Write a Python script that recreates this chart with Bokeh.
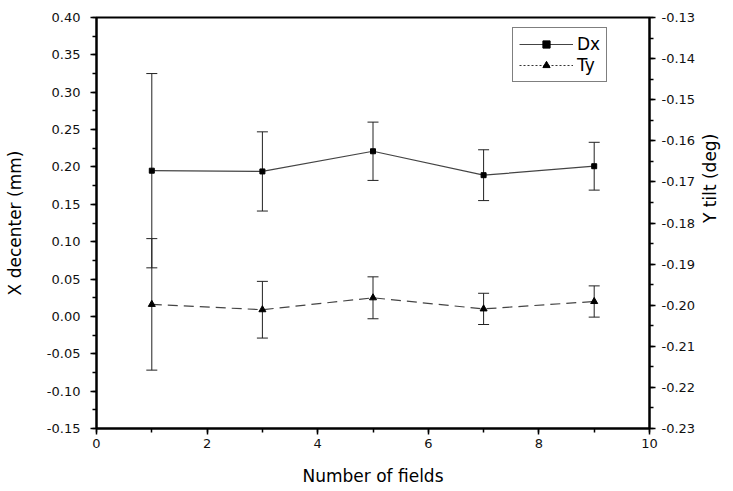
import math
from bokeh.plotting import figure
from bokeh.models import (ColumnDataSource, Range1d, LinearAxis, SingleIntervalTicker,
                          PrintfTickFormatter, Whisker, TeeHead, Legend, LegendItem)
from bokeh.embed import file_html
from bokeh.resources import INLINE

fields = [1, 3, 5, 7, 9]
dx = [0.195, 0.194, 0.221, 0.189, 0.201]
dx_err = [0.130, 0.053, 0.039, 0.034, 0.032]
ty = [-0.1998, -0.2011, -0.1982, -0.2009, -0.1991]
ty_err = [0.0160, 0.0069, 0.0051, 0.0038, 0.0038]

FONT = "DejaVu Sans"

src_dx = ColumnDataSource(dict(x=fields, y=dx,
                               lo=[v - e for v, e in zip(dx, dx_err)],
                               hi=[v + e for v, e in zip(dx, dx_err)]))
src_ty = ColumnDataSource(dict(x=fields, y=ty,
                               lo=[v - e for v, e in zip(ty, ty_err)],
                               hi=[v + e for v, e in zip(ty, ty_err)]))

p = figure(width=733, height=490, output_backend="svg", toolbar_location=None,
           x_range=Range1d(0, 10), y_range=Range1d(-0.15001, 0.40001),
           min_border_left=96, min_border_right=70, min_border_top=17, min_border_bottom=62)
p.extra_y_ranges = {"tilt": Range1d(-0.230002, -0.129998)}
p.xgrid.visible = False
p.ygrid.visible = False
p.outline_line_color = "black"
p.outline_line_width = 2
p.background_fill_color = "white"
p.border_fill_color = "white"

def style_axis(ax):
    ax.axis_line_width = 2
    ax.axis_line_color = "black"
    ax.major_tick_in = 0
    ax.major_tick_out = 6
    ax.minor_tick_in = 0
    ax.minor_tick_out = 4
    ax.major_tick_line_width = 1.5
    ax.minor_tick_line_width = 1.5
    ax.major_label_text_font = FONT
    ax.major_label_text_font_size = "13px"
    ax.major_label_text_color = "#111111"
    ax.major_label_standoff = 6
    ax.axis_label_text_font = FONT
    ax.axis_label_text_font_size = "17px"
    ax.axis_label_text_font_style = "normal"
    ax.axis_label_text_color = "black"

p.xaxis.ticker = SingleIntervalTicker(interval=2, num_minor_ticks=2)
p.xaxis.axis_label = "Number of fields"
p.yaxis.ticker = SingleIntervalTicker(interval=0.05, num_minor_ticks=2)
p.yaxis.formatter = PrintfTickFormatter(format="%.2f")
p.yaxis.axis_label = "X decenter (mm)"
style_axis(p.xaxis[0])
style_axis(p.yaxis[0])
p.xaxis[0].major_label_standoff = 4
p.xaxis[0].axis_label_standoff = 15
p.yaxis[0].major_label_standoff = 10
p.yaxis[0].axis_label_standoff = 19

rax = LinearAxis(y_range_name="tilt", axis_label="Y tilt (deg)",
                 ticker=SingleIntervalTicker(interval=0.01, num_minor_ticks=2),
                 formatter=PrintfTickFormatter(format="%.2f"))
style_axis(rax)
rax.axis_label_standoff = 12
rax.axis_label_orientation = math.pi / 2
p.add_layout(rax, "right")

# error bars
for src, rng in ((src_dx, "default"), (src_ty, "tilt")):
    w = Whisker(source=src, base="x", lower="lo", upper="hi", dimension="height",
                line_color="#222222", line_width=1, y_range_name=rng,
                upper_head=TeeHead(size=11, line_color="#222222", line_width=1),
                lower_head=TeeHead(size=11, line_color="#222222", line_width=1))
    p.add_layout(w)

l_dx = p.line("x", "y", source=src_dx, line_color="#444444", line_width=1.2)
m_dx = p.scatter("x", "y", source=src_dx, marker="square", size=5,
                 fill_color="black", line_color="black")
l_ty = p.line("x", "y", source=src_ty, line_color="#444444", line_width=1.2,
              line_dash="10 6", y_range_name="tilt")
m_ty = p.scatter("x", "y", source=src_ty, marker="triangle", size=7,
                 fill_color="black", line_color="black", y_range_name="tilt")

# legend-only dotted line for Ty (placed outside the visible range)
leg_ty = p.line(x=[-10, -9], y=[0, 0], line_color="#333333", line_width=1.2, line_dash="2 2")

legend = Legend(items=[LegendItem(label="Dx", renderers=[l_dx, m_dx]),
                       LegendItem(label="Ty", renderers=[leg_ty, m_ty])],
                location=(416, 346))
legend.border_line_color = "black"
legend.border_line_width = 1
legend.background_fill_color = "white"
legend.background_fill_alpha = 1
legend.label_text_font = FONT
legend.label_text_font_size = "17px"
legend.label_text_color = "black"
legend.glyph_width = 54
legend.glyph_height = 18
legend.label_height = 18
legend.spacing = 1
legend.padding = 6
legend.margin = 0
legend.label_standoff = 4
p.add_layout(legend, "center")

open("out.html", "w").write(file_html(p, INLINE))
